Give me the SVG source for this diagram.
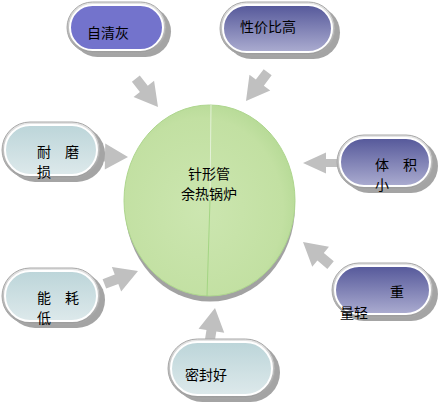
<svg xmlns="http://www.w3.org/2000/svg" width="442" height="410" viewBox="0 0 442 410">
<defs>
<linearGradient id="gDark" x1="0" y1="0" x2="0" y2="1">
<stop offset="0" stop-color="#55589A"/>
<stop offset="1" stop-color="#ABACD0"/>
</linearGradient>
<linearGradient id="gLight" x1="0" y1="0" x2="0" y2="1">
<stop offset="0" stop-color="#BCD5D9"/>
<stop offset="1" stop-color="#DDE9EB"/>
</linearGradient>
<linearGradient id="gRim" x1="0" y1="0" x2="0" y2="1">
<stop offset="0" stop-color="#E6E6E6"/>
<stop offset="1" stop-color="#9C9C9C"/>
</linearGradient>
<radialGradient id="gGreen" cx="0.45" cy="0.55" r="0.6">
<stop offset="0" stop-color="#CCE6B0"/>
<stop offset="0.8" stop-color="#C2E0A2"/>
<stop offset="1" stop-color="#B4D994"/>
</radialGradient>
<path id="arr" d="M0,0 L-23,-13 L-23,-5 L-36,-5 L-36,5 L-23,5 L-23,13 Z"/>
</defs>
<style>
.arrow{fill:#C0C0C0}
.shadow{fill:#A4A4A4}
.rim{fill:url(#gRim);stroke:#A8A8A8;stroke-width:1}
.inner{stroke:#FFFFFF;stroke-width:2}
.lbl{font-family:"Noto Sans CJK SC","Noto Sans CJK JP",sans-serif;font-size:14px;fill:#000}
</style>

<g id="connectors">
<use href="#arr" class="arrow" transform="translate(158,107) rotate(52)"/>
<use href="#arr" class="arrow" transform="translate(246,101) rotate(127)"/>
<use href="#arr" class="arrow" transform="translate(128,157) rotate(1)"/>
<use href="#arr" class="arrow" transform="translate(138,271) rotate(-21)"/>
<use href="#arr" class="arrow" transform="translate(303,163) rotate(180) scale(1,0.8)"/>
<use href="#arr" class="arrow" transform="translate(303,242) rotate(-140)"/>
<use href="#arr" class="arrow" transform="translate(215,308) rotate(-81)"/>
</g>

<g id="center">
<ellipse cx="210" cy="206" rx="85" ry="95.5" fill="#A2A2A2"/>
<ellipse cx="209.5" cy="200.5" rx="85.5" ry="95.5" fill="url(#gGreen)" stroke="#AED68E" stroke-width="1"/>
<path d="M211,105 L210,200" stroke="#E4F2D8" stroke-width="1" fill="none"/>
<path d="M210,200 L207,296" stroke="#A4D584" stroke-width="1" fill="none"/>
<text class="lbl" x="209" y="179" text-anchor="middle">针形管</text>
<text class="lbl" x="209" y="199" text-anchor="middle">余热锅炉</text>
</g>

<g id="n-ziqinghui">
<rect class="shadow" x="72" y="6" width="99" height="51" rx="25.5"/>
<rect class="rim" x="67" y="2" width="99" height="51" rx="25.5"/>
<rect class="inner" x="70" y="5" width="93" height="45" rx="22.5" fill="#7373CC"/>
<text class="lbl" x="87" y="38">自清灰</text>
</g>

<g id="n-xingjiabi">
<rect class="shadow" x="225" y="6" width="115" height="53" rx="26.5"/>
<rect class="rim" x="220" y="2" width="115" height="53" rx="26.5"/>
<rect class="inner" x="223" y="5" width="109" height="47" rx="23.5" fill="url(#gDark)"/>
<text class="lbl" x="240" y="32">性价比高</text>
</g>

<g id="n-naimosun">
<rect class="shadow" x="7" y="126" width="98" height="56" rx="28"/>
<rect class="rim" x="2" y="122" width="98" height="56" rx="28"/>
<rect class="inner" x="5" y="125" width="92" height="50" rx="25" fill="url(#gLight)"/>
<text class="lbl" x="37" y="157">耐　磨</text>
<text class="lbl" x="37" y="177">损</text>
</g>

<g id="n-nenghaodi">
<rect class="shadow" x="7" y="272" width="98" height="56" rx="28"/>
<rect class="rim" x="2" y="268" width="98" height="56" rx="28"/>
<rect class="inner" x="5" y="271" width="92" height="50" rx="25" fill="url(#gLight)"/>
<text class="lbl" x="37" y="303">能　耗</text>
<text class="lbl" x="37" y="323">低</text>
</g>

<g id="n-tijixiao">
<rect class="shadow" x="342" y="139" width="96" height="54" rx="27"/>
<rect class="rim" x="337" y="135" width="96" height="54" rx="27"/>
<rect class="inner" x="340" y="138" width="90" height="48" rx="24" fill="url(#gDark)"/>
<text class="lbl" x="375" y="170">体　积</text>
<text class="lbl" x="375" y="190">小</text>
</g>

<g id="n-zhongliang">
<rect class="shadow" x="337" y="267" width="101" height="54" rx="27"/>
<rect class="rim" x="332" y="263" width="101" height="54" rx="27"/>
<rect class="inner" x="335" y="266" width="95" height="48" rx="24" fill="url(#gDark)"/>
<text class="lbl" x="390" y="297">重</text>
<text class="lbl" x="340" y="318">量轻</text>
</g>

<g id="n-mifenghao">
<rect class="shadow" x="173" y="343" width="107" height="59" rx="29.5"/>
<rect class="rim" x="168" y="339" width="107" height="59" rx="29.5"/>
<rect class="inner" x="171" y="342" width="101" height="53" rx="26.5" fill="url(#gLight)"/>
<text class="lbl" x="185" y="380">密封好</text>
</g>
</svg>
